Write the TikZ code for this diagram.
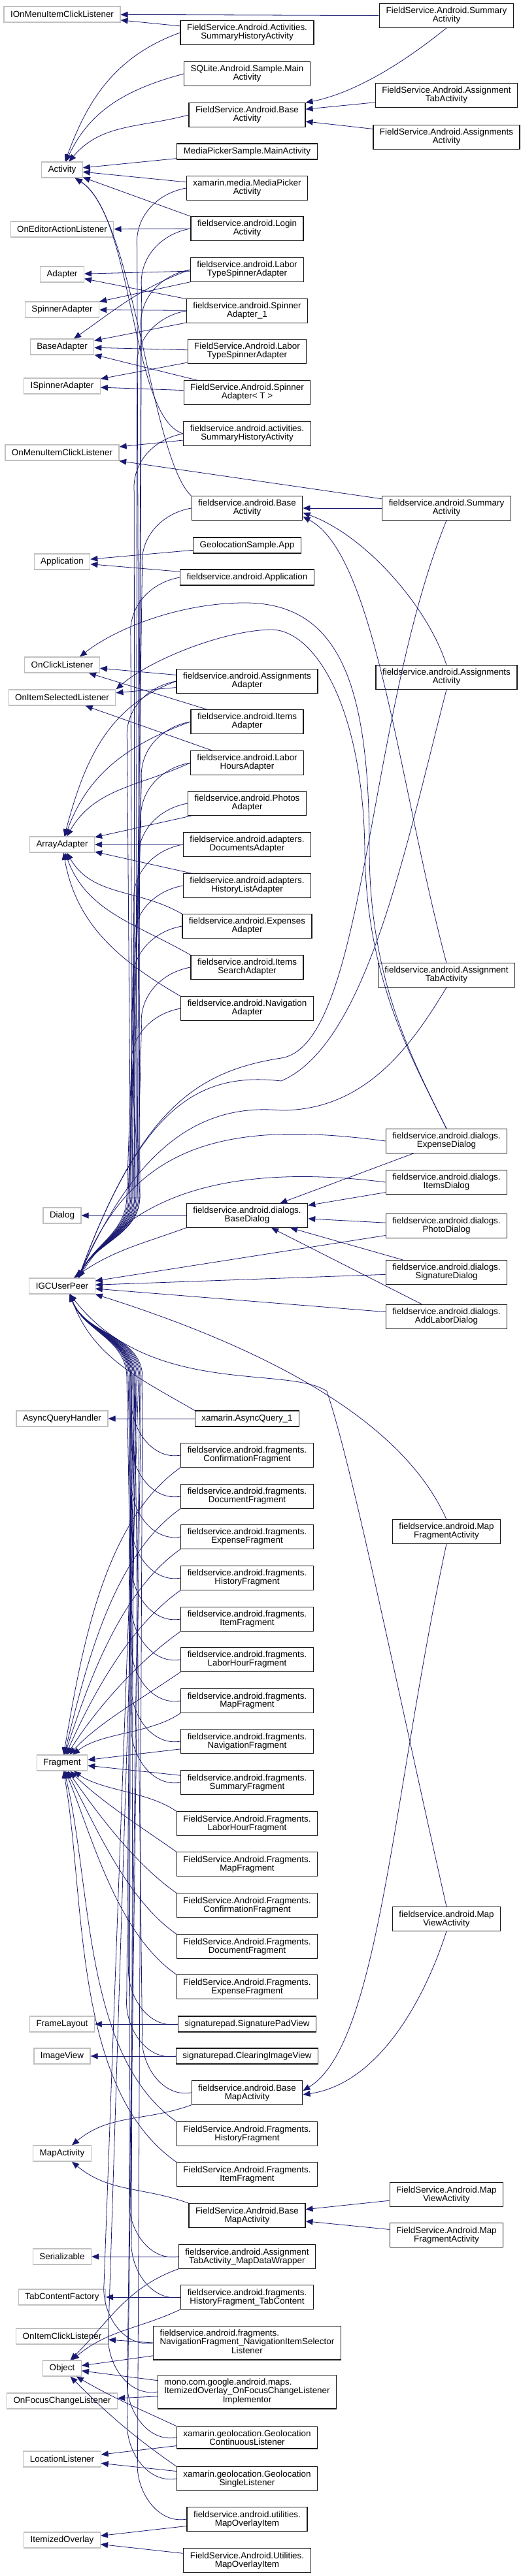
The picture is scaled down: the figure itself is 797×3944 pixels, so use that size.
\documentclass[tikz,border=0pt]{standalone}
\usepackage{fontspec}
\setmainfont{Liberation Sans}
\usetikzlibrary{arrows.meta}

\definecolor{edgeblue}{HTML}{191970}
\definecolor{extgray}{HTML}{C0C0C0}

\begin{document}
\begin{tikzpicture}[x=1pt,y=-1pt,>={Triangle[length=11pt,width=9pt]},
  font=\fontsize{13.4}{13}\selectfont,
  ext/.style={draw=extgray,line width=1.2pt,fill=white,inner xsep=10pt,inner ysep=5.5pt,minimum height=24pt,align=center},
  cls/.style={draw=black!90,line width=1.2pt,fill=white,inner xsep=10pt,inner ysep=5.5pt,minimum height=24pt,align=center},
  edge/.style={->,draw=edgeblue,line width=0.8pt}]
  \useasboundingbox (0,0) rectangle (797,3944);
  % ===================== base classes (left) =====================
  \node[ext] (iomicl) at (95,22) {IOnMenuItemClickListener};
  \node[ext] (activity) at (95,260) {Activity};
  \node[ext] (oneditor) at (95,351) {OnEditorActionListener};
  \node[ext] (adapter) at (95,420) {Adapter};
  \node[ext] (spinadapter) at (95,474) {SpinnerAdapter};
  \node[ext] (baseadapter) at (95,531) {BaseAdapter};
  \node[ext] (ispinadapter) at (95,591) {ISpinnerAdapter};
  \node[ext] (omicl) at (95,693) {OnMenuItemClickListener};
  \node[ext] (application) at (95,860) {Application};
  \node[ext] (onclick) at (95,1018) {OnClickListener};
  \node[ext] (onitemsel) at (95,1068) {OnItemSelectedListener};
  \node[ext] (arrayadapter) at (95,1293) {ArrayAdapter};
  \node[ext] (dialog) at (95,1861) {Dialog};
  \node[ext] (igc) at (95,1969) {IGCUserPeer};
  \node[ext] (asyncqh) at (95,2172) {AsyncQueryHandler};
  \node[ext] (fragment) at (95,2699) {Fragment};
  \node[ext] (framelayout) at (95,3099) {FrameLayout};
  \node[ext] (imageview) at (95,3148) {ImageView};
  \node[ext] (mapactivity) at (95,3297) {MapActivity};
  \node[ext] (serializable) at (95,3455) {Serializable};
  \node[ext] (tabfactory) at (95,3517) {TabContentFactory};
  \node[ext] (onitemclick) at (95,3577) {OnItemClickListener};
  \node[ext] (object) at (95,3626) {Object};
  \node[ext] (onfocus) at (95,3676) {OnFocusChangeListener};
  \node[ext] (locationl) at (95,3765) {LocationListener};
  \node[ext] (itemizedov) at (95,3889) {ItemizedOverlay};
  % ===================== derived classes (middle) =====================
  \node[cls] (fsSumHist) at (378,50) {FieldService.Android.Activities.\\SummaryHistoryActivity};
  \node[cls] (sqliteMain) at (378,113) {SQLite.Android.Sample.Main\\Activity};
  \node[cls] (fsBaseAct) at (378,176) {FieldService.Android.Base\\Activity};
  \node[cls] (mpMain) at (378,232) {MediaPickerSample.MainActivity};
  \node[cls] (xmPicker) at (378,288) {xamarin.media.MediaPicker\\Activity};
  \node[cls] (login) at (378,350) {fieldservice.android.Login\\Activity};
  \node[cls] (laborSpin) at (378,413) {fieldservice.android.Labor\\TypeSpinnerAdapter};
  \node[cls] (spinAd1) at (378,476) {fieldservice.android.Spinner\\Adapter\_1};
  \node[cls] (fsLaborSpin) at (378,538) {FieldService.Android.Labor\\TypeSpinnerAdapter};
  \node[cls] (fsSpinT) at (378,601) {FieldService.Android.Spinner\\Adapter< T >};
  \node[cls] (sumHist) at (378,664) {fieldservice.android.activities.\\SummaryHistoryActivity};
  \node[cls] (baseAct) at (378,778) {fieldservice.android.Base\\Activity};
  \node[cls] (geoApp) at (378,835) {GeolocationSample.App};
  \node[cls] (fsApp) at (378,884) {fieldservice.android.Application};
  \node[cls] (assignAd) at (378,1043) {fieldservice.android.Assignments\\Adapter};
  \node[cls] (itemsAd) at (378,1105) {fieldservice.android.Items\\Adapter};
  \node[cls] (laborHoursAd) at (378,1168) {fieldservice.android.Labor\\HoursAdapter};
  \node[cls] (photosAd) at (378,1230) {fieldservice.android.Photos\\Adapter};
  \node[cls] (docsAd) at (378,1293) {fieldservice.android.adapters.\\DocumentsAdapter};
  \node[cls] (histListAd) at (378,1356) {fieldservice.android.adapters.\\HistoryListAdapter};
  \node[cls] (expAd) at (378,1418) {fieldservice.android.Expenses\\Adapter};
  \node[cls] (itemsSearchAd) at (378,1481) {fieldservice.android.Items\\SearchAdapter};
  \node[cls] (navAd) at (378,1544) {fieldservice.android.Navigation\\Adapter};
  \node[cls] (baseDialog) at (378,1861) {fieldservice.android.dialogs.\\BaseDialog};
  \node[cls] (asyncQ) at (378,2172) {xamarin.AsyncQuery\_1};
  \node[cls] (confirmFr) at (378,2228) {fieldservice.android.fragments.\\ConfirmationFragment};
  \node[cls] (docFr) at (378,2291) {fieldservice.android.fragments.\\DocumentFragment};
  \node[cls] (expFr) at (378,2353) {fieldservice.android.fragments.\\ExpenseFragment};
  \node[cls] (histFr) at (378,2416) {fieldservice.android.fragments.\\HistoryFragment};
  \node[cls] (itemFr) at (378,2479) {fieldservice.android.fragments.\\ItemFragment};
  \node[cls] (laborFr) at (378,2541) {fieldservice.android.fragments.\\LaborHourFragment};
  \node[cls] (mapFr) at (378,2604) {fieldservice.android.fragments.\\MapFragment};
  \node[cls] (navFr) at (378,2666) {fieldservice.android.fragments.\\NavigationFragment};
  \node[cls] (sumFr) at (378,2729) {fieldservice.android.fragments.\\SummaryFragment};
  \node[cls] (fsLaborFr) at (378,2792) {FieldService.Android.Fragments.\\LaborHourFragment};
  \node[cls] (fsMapFr) at (378,2854) {FieldService.Android.Fragments.\\MapFragment};
  \node[cls] (fsConfirmFr) at (378,2917) {FieldService.Android.Fragments.\\ConfirmationFragment};
  \node[cls] (fsDocFr) at (378,2980) {FieldService.Android.Fragments.\\DocumentFragment};
  \node[cls] (fsExpFr) at (378,3042) {FieldService.Android.Fragments.\\ExpenseFragment};
  \node[cls] (sigPad) at (378,3099) {signaturepad.SignaturePadView};
  \node[cls] (clearImg) at (378,3148) {signaturepad.ClearingImageView};
  \node[cls] (baseMap) at (378,3204) {fieldservice.android.Base\\MapActivity};
  \node[cls] (fsHistFr) at (378,3267) {FieldService.Android.Fragments.\\HistoryFragment};
  \node[cls] (fsItemFr) at (378,3329) {FieldService.Android.Fragments.\\ItemFragment};
  \node[cls] (fsBaseMap) at (378,3392) {FieldService.Android.Base\\MapActivity};
  \node[cls] (mapWrapper) at (378,3455) {fieldservice.android.Assignment\\TabActivity\_MapDataWrapper};
  \node[cls] (histTab) at (378,3517) {fieldservice.android.fragments.\\HistoryFragment\_TabContent};
  \node[cls] (navSel) at (378,3587) {\begin{tabular}{@{}l@{}}fieldservice.android.fragments.\\NavigationFragment\_NavigationItemSelector\\\multicolumn{1}{@{}c@{}}{Listener}\end{tabular}};
  \node[cls] (focusImpl) at (378,3662) {\begin{tabular}{@{}l@{}}mono.com.google.android.maps.\\ItemizedOverlay\_OnFocusChangeListener\\\multicolumn{1}{@{}c@{}}{Implementor}\end{tabular}};
  \node[cls] (geoCont) at (378,3732) {xamarin.geolocation.Geolocation\\ContinuousListener};
  \node[cls] (geoSingle) at (378,3795) {xamarin.geolocation.Geolocation\\SingleListener};
  \node[cls] (mapOverlay) at (378,3857) {fieldservice.android.utilities.\\MapOverlayItem};
  \node[cls] (fsMapOverlay) at (378,3920) {FieldService.Android.Utilities.\\MapOverlayItem};
  % ===================== derived classes (right) =====================
  \node[cls] (fsSummary) at (683,24) {FieldService.Android.Summary\\Activity};
  \node[cls] (fsAssignTab) at (683,146) {FieldService.Android.Assignment\\TabActivity};
  \node[cls] (fsAssigns) at (683,210) {FieldService.Android.Assignments\\Activity};
  \node[cls] (summary) at (683,778) {fieldservice.android.Summary\\Activity};
  \node[cls] (assigns) at (683,1037) {fieldservice.android.Assignments\\Activity};
  \node[cls] (assignTab) at (683,1493) {fieldservice.android.Assignment\\TabActivity};
  \node[cls] (expDlg) at (683,1747) {fieldservice.android.dialogs.\\ExpenseDialog};
  \node[cls] (itemsDlg) at (683,1810) {fieldservice.android.dialogs.\\ItemsDialog};
  \node[cls] (photoDlg) at (683,1877) {fieldservice.android.dialogs.\\PhotoDialog};
  \node[cls] (sigDlg) at (683,1948) {fieldservice.android.dialogs.\\SignatureDialog};
  \node[cls] (laborDlg) at (683,2016) {fieldservice.android.dialogs.\\AddLaborDialog};
  \node[cls] (mapFrAct) at (683,2345) {fieldservice.android.Map\\FragmentActivity};
  \node[cls] (mapViewAct) at (683,2938) {fieldservice.android.Map\\ViewActivity};
  \node[cls] (fsMapView) at (683,3360) {FieldService.Android.Map\\ViewActivity};
  \node[cls] (fsMapFrAct) at (683,3422) {FieldService.Android.Map\\FragmentActivity};
  % ---------- activities ----------
  \draw[edge] (fsSummary) -- (iomicl);
  \draw[edge] (fsSumHist) -- (iomicl);
  \draw[edge] (fsSumHist.west) to[out=200,in=70] (activity);
  \draw[edge] (sqliteMain.west) to[out=195,in=65] (activity);
  \draw[edge] (fsBaseAct.west) to[out=195,in=50] (activity);
  \draw[edge] (mpMain) -- (activity);
  \draw[edge] (xmPicker) -- (activity);
  \draw[edge] (login.north west) -- (activity);
  \draw[edge] (sumHist.west) .. controls (200,640) and (205,330) .. (activity);
  \draw[edge] (baseAct.north west) .. controls (230,700) and (205,330) .. (activity);
  \draw[edge] (fsSummary.south) .. controls (600,110) and (530,145) .. (fsBaseAct.north east);
  \draw[edge] (fsAssignTab) -- (fsBaseAct);
  \draw[edge] (fsAssigns) -- (fsBaseAct);
  % ---------- adapters and spinners ----------
  \draw[edge] (login) -- (oneditor);
  \draw[edge] (laborSpin) -- (adapter);
  \draw[edge] (laborSpin) -- (spinadapter);
  \draw[edge] (laborSpin.west) to[out=200,in=35] (baseadapter);
  \draw[edge] (spinAd1) -- (adapter);
  \draw[edge] (spinAd1) -- (spinadapter);
  \draw[edge] (spinAd1) -- (baseadapter);
  \draw[edge] (fsLaborSpin) -- (baseadapter);
  \draw[edge] (fsLaborSpin) -- (ispinadapter);
  \draw[edge] (fsSpinT) -- (baseadapter);
  \draw[edge] (fsSpinT) -- (ispinadapter);
  % ---------- menus, application ----------
  \draw[edge] (sumHist) -- (omicl);
  \draw[edge] (summary) -- (omicl);
  \draw[edge] (summary) -- (baseAct);
  \draw[edge] (assigns.north) .. controls (655,930) and (560,820) .. ([yshift=-7pt]baseAct.east);
  \draw[edge] (assignTab.north) .. controls (610,1200) and (575,850) .. ([yshift=-13pt]baseAct.east);
  \draw[edge] (geoApp) -- (application);
  \draw[edge] (fsApp) -- (application);
  % arches from the expense dialog
  \draw[edge] (expDlg.north) .. controls (630,1620) and (565,1500) .. (565,1300)
    .. controls (565,1050) and (520,925) .. (378,923)
    .. controls (280,922) and (180,960) .. ([xshift=27pt]onclick.north);
  \draw[edge] (expDlg.north) .. controls (630,1620) and (560,1500) .. (558,1300)
    .. controls (555,1080) and (480,962) .. (413,964)
    .. controls (340,966) and (230,1010) .. (onitemsel.north east);
  % ---------- listeners, ArrayAdapter ----------
  \draw[edge] (assignAd) -- (onclick);
  \draw[edge] (assignAd) -- (onitemsel);
  \draw[edge] (itemsAd) -- (onclick);
  \draw[edge] (laborHoursAd) -- (onitemsel);
  \draw[edge] (assignAd.west) to[out=200,in=75] (arrayadapter);
  \draw[edge] (itemsAd.west) to[out=200,in=70] (arrayadapter);
  \draw[edge] (laborHoursAd.west) to[out=205,in=60] (arrayadapter);
  \draw[edge] (photosAd) -- (arrayadapter);
  \draw[edge] (docsAd) -- (arrayadapter);
  \draw[edge] (histListAd) -- (arrayadapter);
  \draw[edge] (expAd.north west) to[out=150,in=-60] (arrayadapter);
  \draw[edge] (itemsSearchAd.north west) to[out=150,in=-70] (arrayadapter);
  \draw[edge] (navAd.north west) to[out=150,in=-80] (arrayadapter);
  % ---------- dialogs ----------
  \draw[edge] (baseDialog) -- (dialog);
  \foreach \d in {expDlg,itemsDlg,photoDlg,sigDlg,laborDlg}
    \draw[edge] (\d) -- (baseDialog);
  \foreach \d in {photoDlg,sigDlg,laborDlg}
    \draw[edge] (\d) -- (igc);
  \draw[edge] (baseDialog.south west) to[out=200,in=35] (igc);
  \draw[edge] (expDlg.west) .. controls (330,1712) and (200,1760) .. ([xshift=25pt]igc.north);
  \draw[edge] (itemsDlg.west) .. controls (350,1780) and (200,1830) .. ([xshift=25pt]igc.north);
  % ---------- IGCUserPeer, from above ----------
  \foreach \c/\x in {xmPicker/214,login/212,laborSpin/210,spinAd1/208,sumHist/206,baseAct/204,fsApp/202,assignAd/200,itemsAd/198,laborHoursAd/196,photosAd/194,docsAd/198,histListAd/202,expAd/206,itemsSearchAd/210,navAd/214}
    \draw[edge] (\c.west) to[out=190,in=95] ++(-75,90) -- (\x,1830) to[out=-90,in=65] ([xshift=25pt]igc.north);
  \draw[edge] (summary.south) .. controls (560,1100) and (560,1600) .. (430,1620) .. controls (300,1640) and (215,1700) .. ([xshift=25pt]igc.north);
  \draw[edge] (assigns.south) .. controls (620,1300) and (560,1600) .. (430,1655) .. controls (300,1640) and (215,1700) .. ([xshift=25pt]igc.north);
  \draw[edge] (assignTab.south) .. controls (630,1600) and (560,1700) .. (430,1700) .. controls (320,1690) and (215,1740) .. ([xshift=25pt]igc.north);
  % ---------- IGCUserPeer, from below ----------
  \draw[edge] (asyncQ.north west) to[out=150,in=-70] ([xshift=12pt]igc.south);
  \foreach \c/\x in {confirmFr/200,docFr/202,expFr/198,histFr/204,itemFr/196,laborFr/206,mapFr/194,navFr/200,sumFr/208,sigPad/198,clearImg/202,baseMap/206,mapWrapper/200,histTab/204,navSel/210,focusImpl/212,geoCont/214,geoSingle/216,mapOverlay/218}
    \draw[edge] (\c.west) to[out=190,in=-95] ++(-75,-90) -- (\x,2110) to[out=90,in=-70] ([xshift=12pt]igc.south);
  \draw[edge] (mapFrAct.north) .. controls (640,2230) and (520,2100) .. (igc.south east);
  \draw[edge] (mapViewAct.north) .. controls (600,2550) and (540,2250) .. (500,2130) .. controls (440,2090) and (230,2140) .. ([xshift=12pt]igc.south);
  % ---------- fragments ----------
  \foreach \c/\a in {confirmFr/80,docFr/76,expFr/72,histFr/66,itemFr/58,laborFr/48,mapFr/38}
    \draw[edge] (\c.south west) to[out=215,in=\a,looseness=0.8] (fragment);
  \draw[edge] (navFr) -- (fragment);
  \draw[edge] (sumFr) -- (fragment);
  \foreach \c/\a in {fsLaborFr/-35,fsMapFr/-45,fsConfirmFr/-55,fsDocFr/-62,fsExpFr/-68,fsHistFr/-76,fsItemFr/-80}
    \draw[edge] (\c.north west) to[out=145,in=\a,looseness=0.8] (fragment);
  % ---------- maps ----------
  \draw[edge] (asyncQ) -- (asyncqh);
  \draw[edge] (sigPad) -- (framelayout);
  \draw[edge] (clearImg) -- (imageview);
  \draw[edge] (mapFrAct.south) .. controls (600,2750) and (580,3130) .. ([yshift=3pt]baseMap.east);
  \draw[edge] (mapViewAct.south) .. controls (650,3060) and (580,3190) .. ([yshift=-3pt]baseMap.east);
  \draw[edge] (baseMap.south west) to[out=200,in=40] (mapactivity);
  \draw[edge] (fsBaseMap.north west) to[out=160,in=-40] (mapactivity);
  \draw[edge] (fsMapView) -- (fsBaseMap);
  \draw[edge] (fsMapFrAct) -- (fsBaseMap);
  % ---------- Object and the rest ----------
  \draw[edge] (mapWrapper) -- (serializable);
  \draw[edge] (histTab) -- (tabfactory);
  \draw[edge] (navSel.west) -- (onitemclick);
  \draw[edge] (focusImpl) -- (onfocus);
  \draw[edge] (mapWrapper.south west) to[out=200,in=45] (object);
  \draw[edge] (histTab.south west) to[out=205,in=40] (object);
  \draw[edge] (navSel) -- (object);
  \draw[edge] (focusImpl) -- (object);
  \draw[edge] (geoCont.north west) to[out=155,in=-30] (object);
  \draw[edge] (geoSingle.north west) to[out=145,in=-45] (object);
  \draw[edge] (geoCont) -- (locationl);
  \draw[edge] (geoSingle) -- (locationl);
  \draw[edge] (mapOverlay) -- (itemizedov);
  \draw[edge] (fsMapOverlay) -- (itemizedov);
\end{tikzpicture}
\end{document}
